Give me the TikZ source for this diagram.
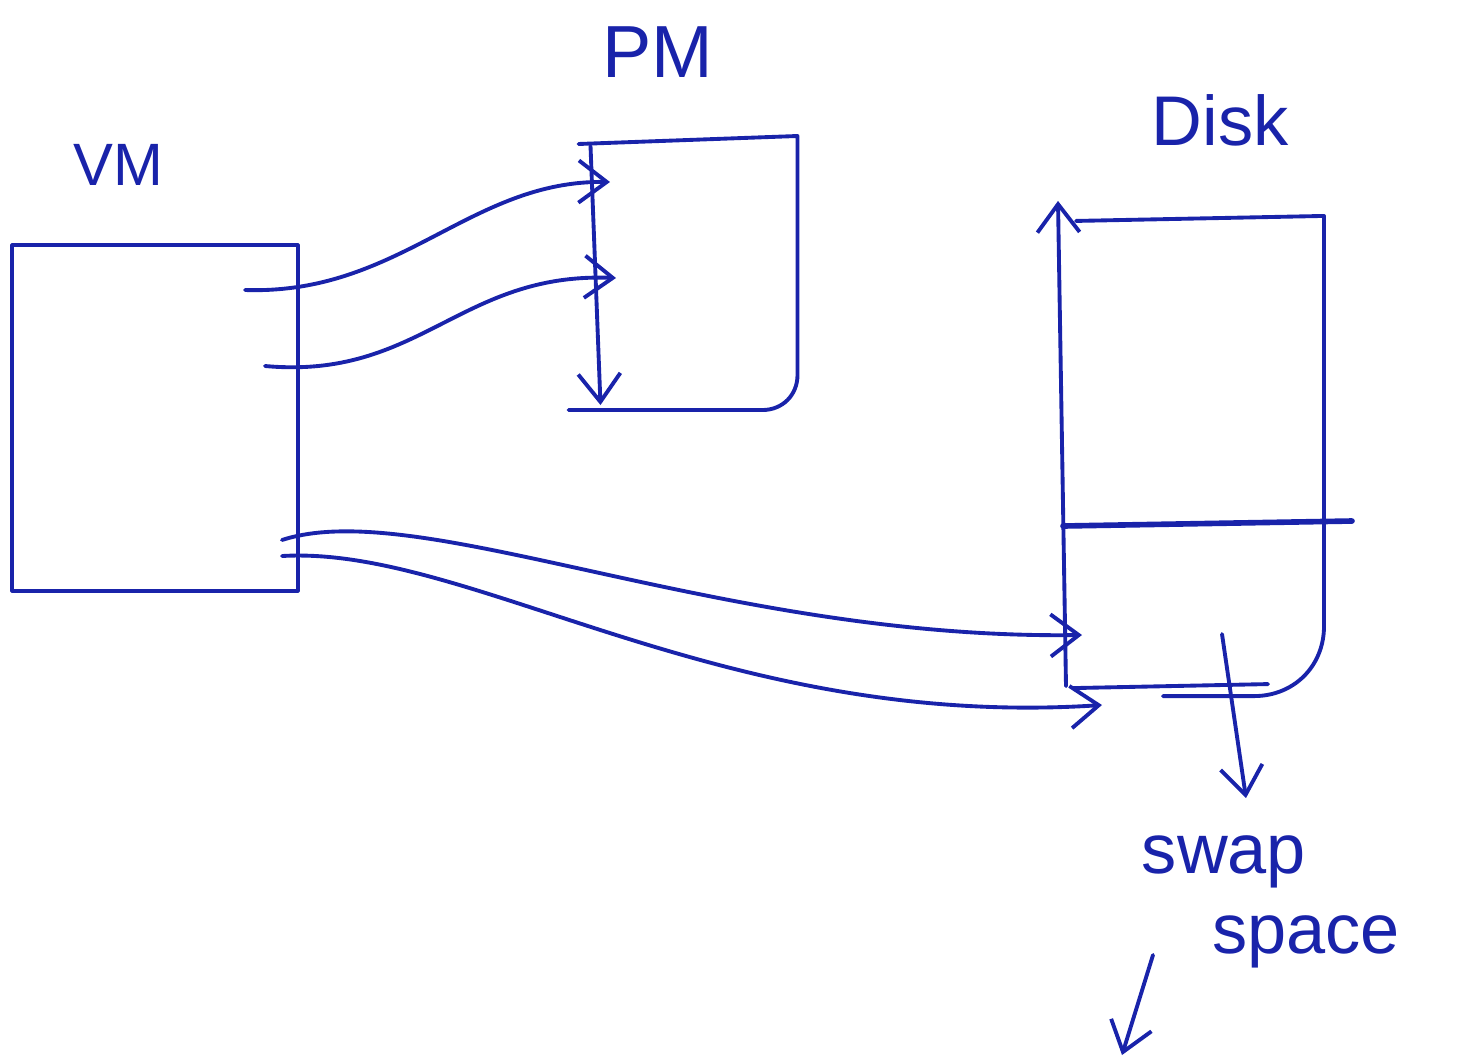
\documentclass[tikz,border=0pt]{standalone}
\usepackage{fontspec}
\setmainfont{Liberation Sans}
\usetikzlibrary{arrows.meta,calc}
\definecolor{ink}{RGB}{25,35,170}
\tikzset{
  box/.style={draw,inner sep=0pt},
  lbl/.style={font=\fontsize{20}{24}\selectfont,inner sep=0pt},
}
\begin{document}
\begin{tikzpicture}[x=0.01cm, y=-0.01cm, line join=round, line cap=round,
  >={Straight Barb[length=8pt,width=12pt]}, line width=1.1pt, color=ink]
  \useasboundingbox (0,0) rectangle (1476,1063);
  % labels
  \node[lbl,font=\fontsize{17}{20}\selectfont] (vmlbl) at (118,165) {VM};
  \node[lbl,font=\fontsize{21}{25}\selectfont] (pmlbl) at (658,52) {PM};
  \node[lbl] (disklbl) at (1220,120) {Disk};
  \node[lbl] (swap) at (1224,862) {swap};
  \node[lbl] (space) at (1306,942) {space};
  % memories
  \node[box, minimum width=2.85cm, minimum height=3.45cm] (vm) at (155,418) {};
  \node[inner sep=0pt, minimum width=2.15cm, minimum height=2.7cm] (pm) at (688,273) {};
  \draw ($(pm.north west)+(0,8)$) -- (pm.north east) -- ($(pm.south east)+(0,-35)$)
    .. controls ($(pm.south east)+(0,-15)$) and ($(pm.south east)+(-15,0)$) .. ($(pm.south east)+(-35,0)$)
    -- ($(pm.south west)+(-10,0)$);
  \draw[->] ($(pm.north west)+(12,10)$) -- ($(pm.south west)+(22,-5)$);
  \node[inner sep=0pt, minimum width=2.52cm, minimum height=4.76cm] (disk) at (1196,456) {};
  \draw ($(disk.north west)+(8,5)$) -- (disk.north east) -- ($(disk.south east)+(0,-70)$)
    .. controls ($(disk.south east)+(0,-30)$) and ($(disk.south east)+(-30,0)$) .. ($(disk.south east)+(-70,0)$)
    -- ($(disk.south west)+(95,0)$);
  \draw[->] ($(disk.south west)+(-2,-10)$) -- ($(disk.north west)+(-10,-15)$);
  \draw[line width=1.6pt] ($(disk.west)+(-5,70)$) -- ($(disk.east)+(28,65)$);
  \draw ($(disk.south west)+(5,-8)$) -- ($(disk.south west)+(200,-12)$);
  % mappings
  \coordinate (vm1) at (245,290);
  \coordinate (vm2) at (265,366);
  \coordinate (vm3) at (282,540);
  \coordinate (vm4) at (282,556);
  \coordinate (pm1) at (610,182);
  \coordinate (pm2) at (616,278);
  \coordinate (dk1) at (1082,635);
  \coordinate (dk2) at (1102,705);
  \draw[->] (vm1) .. controls (400,295) and (470,180) .. (pm1);
  \draw[->] (vm2) .. controls (420,380) and (460,272) .. (pm2);
  \draw[->] (vm3) .. controls (420,495) and (720,640) .. (dk1);
  \draw[->] (vm4) .. controls (470,545) and (720,730) .. (dk2);
  % swap space
  \coordinate (sw0) at ($(disk.south)+(26,-62)$);
  \coordinate (sw1) at (1246,798);
  \draw[->] (sw0) -- (sw1);
  \coordinate (dn0) at (1153,955);
  \coordinate (dn1) at (1122,1055);
  \draw[->] (dn0) -- (dn1);
\end{tikzpicture}
\end{document}
